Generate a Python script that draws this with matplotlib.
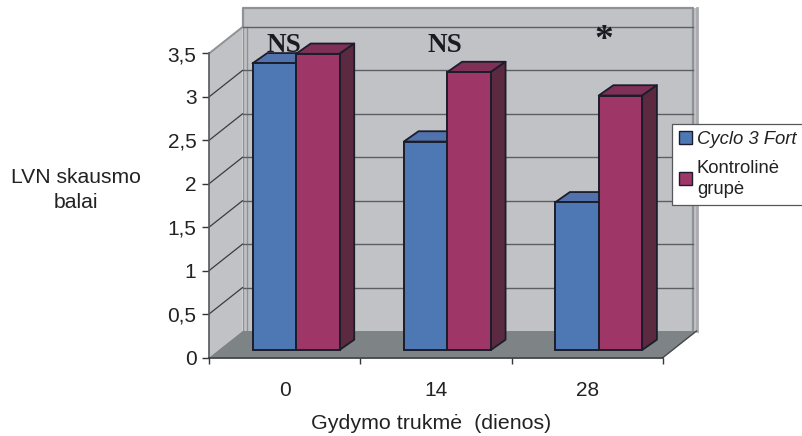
import matplotlib
matplotlib.use("Agg")
import matplotlib.pyplot as plt
from matplotlib.patches import Polygon, Patch
import numpy as np

plt.rcParams['font.family'] = ['Liberation Sans', 'DejaVu Sans']

# Values
days = ["0", "14", "28"]
cyclo = [3.3, 2.4, 1.7]
control = [3.41, 3.2, 2.93]
marks = ["NS", "NS", "*"]
y_ticks = [0, 0.5, 1, 1.5, 2, 2.5, 3, 3.5]
y_labels = ["0", "0,5", "1", "1,5", "2", "2,5", "3", "3,5"]
series_names = ["Cyclo 3 Fort", "Kontrolinė\ngrupė"]

BLUE, BLUE_TOP = "#4E78B3", "#5272AE"
PINK, PINK_TOP, PINK_SIDE = "#9E3768", "#7F3056", "#5B2A41"
WALL, FLOOR, WALL_LINE = "#C1C2C6", "#7E8486", "#8E9195"
EDGE = "#1B1D2A"

W, H = 802, 436
fig = plt.figure(figsize=(W / 100, H / 100), dpi=100)
# front plane of the fake 3D box, in pixels: x 209..663, y 53..357
ax = fig.add_axes([209 / W, 1 - 357.5 / H, 454 / W, 304 / H])
ax.set_xlim(-0.5, 2.5)
ax.set_ylim(0, 3.5)
ax.patch.set_visible(False)

# depth of the box and of a bar, in data units
box_dx, box_dy = 33.5 / 151.3, 26.5 / 86.9
bar_dx, bar_dy = 14.7 / 151.3, 10.3 / 86.9
base = 7.5 / 86.9
bar_w = 43.5 / 151.3
bar_shift = 0.075
x_left, x_right = -0.5, 2.5
y_top = 3.5 + box_dy + 19 / 86.9
strip = 4 / 151.3


def add_poly(points, color, z, edge="none", lw=0):
    ax.add_patch(Polygon(points, closed=True, facecolor=color, edgecolor=edge,
                         linewidth=lw, zorder=z, clip_on=False, joinstyle="round"))


# back wall and left wall
bx0, bx1 = x_left + box_dx, x_right + box_dx
add_poly([(bx0, box_dy), (bx1, box_dy), (bx1, y_top), (bx0, y_top)], WALL, 1)
add_poly([(x_left, 0), (bx0, box_dy), (bx0, 3.5 + box_dy), (x_left, 3.5)], WALL, 1)
ax.plot([bx0, bx0, bx1 - strip, bx1 - strip], [3.5 + box_dy, y_top, y_top, box_dy],
        color=WALL_LINE, lw=1.6, zorder=2, clip_on=False)
ax.plot([bx1, bx1], [box_dy, y_top], color="#A9ABAF", lw=2, zorder=2, clip_on=False)
ax.plot([bx0 + strip, bx0 + strip], [box_dy, 3.5 + box_dy], color=WALL_LINE, lw=1,
        zorder=2, clip_on=False)
ax.plot([bx0, bx0], [box_dy, 3.5 + box_dy], color=WALL_LINE, lw=1, zorder=2, clip_on=False)
ax.plot([x_left, bx0], [3.5, 3.5 + box_dy], color=WALL_LINE, lw=1.4, zorder=2, clip_on=False)

# gridlines on both walls
for v in y_ticks[1:]:
    ax.plot([bx0, bx1 - strip], [v + box_dy, v + box_dy], color="#5C5E63", lw=1,
            zorder=2, clip_on=False)
    if v < 3.5:
        ax.plot([x_left, bx0], [v, v + box_dy], color="#3A3C40", lw=0.9, zorder=2, clip_on=False)

# floor
add_poly([(x_left, 0), (x_right, 0), (bx1, box_dy), (bx0, box_dy)], FLOOR, 3)
ax.plot([x_right, bx1], [0, box_dy], color="#45474B", lw=1, zorder=4, clip_on=False)

# bars
x = np.arange(len(days))
blue_left = x + bar_shift - bar_w
pink_left = x + bar_shift
for i in x:
    tb, tp = cyclo[i] + base, control[i] + base
    l, m, r = blue_left[i], pink_left[i], pink_left[i] + bar_w
    add_poly([(l, tb), (m, tb), (m + bar_dx, tb + bar_dy), (l + bar_dx, tb + bar_dy)],
             BLUE_TOP, 5, EDGE, 1.3)
    add_poly([(m, tp), (r, tp), (r + bar_dx, tp + bar_dy), (m + bar_dx, tp + bar_dy)],
             PINK_TOP, 6, EDGE, 1.3)
    add_poly([(r, base), (r + bar_dx, base + bar_dy), (r + bar_dx, tp + bar_dy), (r, tp)],
             PINK_SIDE, 6, EDGE, 1.3)
ax.bar(blue_left, cyclo, bar_w, bottom=base, align="edge", color=BLUE, edgecolor=EDGE,
       linewidth=1.4, zorder=7, clip_on=False)
ax.bar(pink_left, control, bar_w, bottom=base, align="edge", color=PINK, edgecolor=EDGE,
       linewidth=1.4, zorder=8, clip_on=False)

# significance marks above the groups
mark_x = [-0.005, 1.06, 2.11]
mark_y = [3.59, 3.59, 3.65]
for i, txt in enumerate(marks):
    ax.text(mark_x[i], mark_y[i], txt, family="Liberation Serif", weight="bold",
            fontsize=19.5 if txt == "NS" else 27, color="#1A1A22", ha="center", va="center",
            zorder=9, clip_on=False)

# axes
for side in ["top", "right"]:
    ax.spines[side].set_visible(False)
ax.spines["left"].set_color("#55575B")
ax.spines["bottom"].set_color("#33353A")
ax.spines["left"].set_linewidth(1.2)
ax.spines["bottom"].set_linewidth(1.2)
ax.spines["left"].set_zorder(5)
ax.spines["bottom"].set_zorder(5)
ax.set_yticks(y_ticks)
ax.set_yticklabels(y_labels)
ax.set_xticks(x)
ax.set_xticklabels(days)
ax.set_xticks(np.arange(-0.5, 3), minor=True)
ax.tick_params(axis="x", which="major", length=0, labelsize=15, pad=17, colors="#222222")
ax.tick_params(axis="x", which="minor", length=4.5, width=1, color="#33353A")
ax.tick_params(axis="y", length=5, width=1, color="#33353A", labelsize=15, pad=4, labelcolor="#222222")

ax.set_ylabel("LVN skausmo\nbalai", rotation=0, fontsize=15.2, linespacing=1.35, color="#222222",
              ha="center", va="center")
ax.yaxis.set_label_coords((76 - 209) / 454, (357.5 - 190) / 304)
ax.set_xlabel("Gydymo trukmė  (dienos)", fontsize=15.4, color="#222222", ha="center", va="center")
ax.xaxis.set_label_coords((431 - 209) / 454, (357.5 - 423) / 304)

# legend
handles = [Patch(facecolor=BLUE, edgecolor=EDGE, linewidth=1),
           Patch(facecolor=PINK, edgecolor=EDGE, linewidth=1)]
leg = ax.legend(handles, series_names, loc="upper left",
                bbox_to_anchor=(671.5 / W, 1 - 124 / H), bbox_transform=fig.transFigure,
                borderaxespad=0, fancybox=False, framealpha=1, edgecolor="#55575B",
                fontsize=13.3, handlelength=0.72, handleheight=0.72, handletextpad=0.27,
                borderpad=0.38, labelspacing=0.62, labelcolor="#222222")
leg.get_frame().set_linewidth(0.9)
leg.set_zorder(10)
leg.get_texts()[0].set_fontstyle("italic")
leg.get_texts()[1].set_linespacing(1.35)

fig.savefig("out.png", dpi=100)
